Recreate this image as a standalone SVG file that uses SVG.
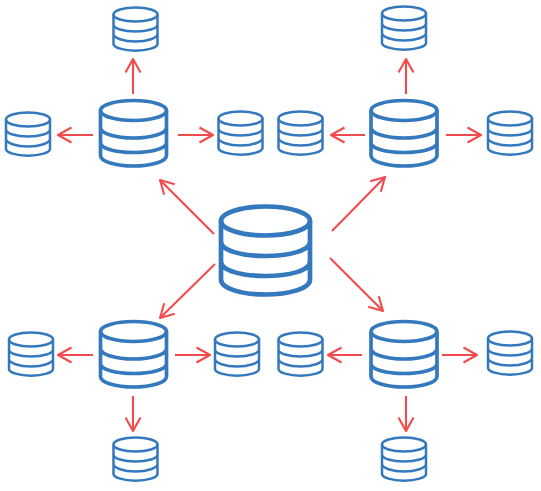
<svg xmlns="http://www.w3.org/2000/svg" width="541" height="491" viewBox="0 0 541 491">
<style>
.db{fill:none;stroke:#3479BD}
.s{stroke-width:2.5}.m{stroke-width:3.7}.l{stroke-width:4.7}
.c{fill:none;stroke:#F24B4E;stroke-width:2.1;stroke-linejoin:round}
</style>
<defs>
<g id="small"><ellipse cx="0" cy="-14.500" rx="22" ry="7"/><path d="M-22 -14.500V15C-22 18.500 -12 21.700 0 21.700S22 18.500 22 15V-14.500M-22 -4.500C-22 -.5 -12 2.500 0 2.500S22 -.5 22 -4.500M-22 5C-22 9 -12 12.500 0 12.500S22 9 22 5"/></g>
<g id="medium"><ellipse cx="0" cy="-23" rx="33" ry="10"/><path d="M-33 -23V22C-33 28 -18 32.500 0 32.500S33 28 33 22V-23M-33 -6C-33 0 -18 4.500 0 4.500S33 0 33 -6M-33 9C-33 15 -18 19 0 19S33 15 33 9"/></g>
<g id="large"><ellipse cx="0" cy="-29.500" rx="44.500" ry="14.500"/><path d="M-44.500 -29.500V29C-44.500 38 -24 44 0 44S44.500 38 44.500 29V-29.500M-44.500 -9C-44.500 0 -24 5.500 0 5.500S44.500 0 44.500 -9M-44.500 11C-44.500 20 -24 25.500 0 25.500S44.500 20 44.500 11"/></g>
</defs>
<g id="connectors" class="c">
<path d="M133 94V59"/><path d="M125.500 72.500L133 59L140.500 72.500"/>
<path d="M93 135H58"/><path d="M71.500 127.500L58 135L71.500 142.500"/>
<path d="M178 135H213"/><path d="M199.500 127.500L213 135L199.500 142.500"/>
<path d="M406 94V59"/><path d="M398.500 72.500L406 59L413.500 72.500"/>
<path d="M365 135H331"/><path d="M344.500 127.500L331 135L344.500 142.500"/>
<path d="M446 135H481"/><path d="M467.500 127.500L481 135L467.500 142.500"/>
<path d="M93 355H58"/><path d="M71.500 347.500L58 355L71.500 362.500"/>
<path d="M175 355H210"/><path d="M196.500 347.500L210 355L196.500 362.500"/>
<path d="M133 396V431"/><path d="M125.500 417.500L133 431L140.500 417.500"/>
<path d="M362 355H328"/><path d="M341.500 347.500L328 355L341.500 362.500"/>
<path d="M442 355H477"/><path d="M463.500 347.500L477 355L463.500 362.500"/>
<path d="M406 396V431"/><path d="M398.500 417.500L406 431L413.500 417.500"/>
<path d="M214 234L160 180"/><path d="M164.200 194.800L160 180L174.800 184.200"/>
<path d="M332 231L385 177"/><path d="M370.200 181.200L385 177L380.800 191.800"/>
<path d="M215 264L160 318"/><path d="M164.200 303.200L160 318L174.800 313.800"/>
<path d="M330 258L383 311"/><path d="M368.200 306.800L383 311L378.800 296.200"/>
</g>
<g id="center"><use href="#large" x="265.500" y="250.500" class="db l"/></g>
<g id="hub-tl"><use href="#medium" x="133.500" y="133.500" class="db m"/></g>
<g id="hub-tr"><use href="#medium" x="404" y="133.500" class="db m"/></g>
<g id="hub-bl"><use href="#medium" x="133.500" y="354.500" class="db m"/></g>
<g id="hub-br"><use href="#medium" x="404" y="354.500" class="db m"/></g>
<g id="db-1"><use href="#small" x="135.500" y="29" class="db s"/></g>
<g id="db-2"><use href="#small" x="28" y="134" class="db s"/></g>
<g id="db-3"><use href="#small" x="240.500" y="133" class="db s"/></g>
<g id="db-4"><use href="#small" x="404" y="28" class="db s"/></g>
<g id="db-5"><use href="#small" x="300.500" y="133" class="db s"/></g>
<g id="db-6"><use href="#small" x="510" y="133" class="db s"/></g>
<g id="db-7"><use href="#small" x="31" y="354" class="db s"/></g>
<g id="db-8"><use href="#small" x="237" y="354" class="db s"/></g>
<g id="db-9"><use href="#small" x="135.500" y="459" class="db s"/></g>
<g id="db-10"><use href="#small" x="300.500" y="354" class="db s"/></g>
<g id="db-11"><use href="#small" x="510" y="353" class="db s"/></g>
<g id="db-12"><use href="#small" x="404" y="459" class="db s"/></g>
</svg>
